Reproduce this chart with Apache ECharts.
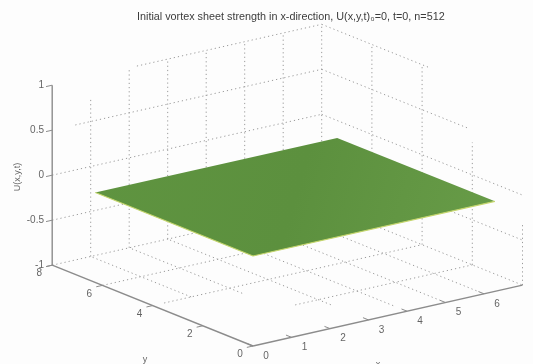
<!DOCTYPE html>
<html><head><meta charset="utf-8">
<style>html,body{margin:0;padding:0;background:#fdfdfd;overflow:hidden}#c{width:533px;height:364px;filter:blur(.45px)}</style>
<script src="https://cdn.jsdelivr.net/npm/echarts@6/dist/echarts.min.js"></script></head>
<body><div id="c"></div>
<script>
// axis ticks
const xTicks = [0,1,2,3,4,5,6];
const yTicks = [0,2,4,6,8];
const zTicks = [-1,-0.5,0,0.5,1];
const zTickLabels = ['-1','-0.5','0','0.5','1'];
// box limits
const xMax = 7, yMax = 8;
// surface: U(x,y,0)=0 over [0,2π]²
const surfaceX = [0, 6.283, 6.283, 0];
const surfaceY = [0, 0, 6.283, 6.283];
const surfaceU = [0, 0, 0, 0];
// visible stretches of the scanned dotted grid: [fixed value, from, to]
const backXVerticals = [[1,-1,0.75],[2,-1,1],[3,-1,1],[4,-1,1],[5,-1,1],[6,-1,1],[7,-1,1]];
const backZLines = [[-1,0,7],[-0.5,0,7],[0,0,7],[0.5,0.6,7],[1,2.2,7]];
const sideYVerticals = [[6,-1,1],[4,-1,1],[2,-1,0.36],[0,-1,-0.3]];
const sideZLines = [[1,8,3.7],[0.5,8,2.2],[0,8,0],[-0.5,8,0],[-1,8,0]];
const floorXLines = [[1,4,8],[2,3.5,8],[3,1.5,8],[4,0.55,8],[5,0.2,8],[6,0.3,8]];
const floorYLines = [[2,2.4,7],[4,0.3,7],[6,0,7]];

// oblique view of the 3-D box, mapped to the 2-D hidden axes
const view = {ox:253, oy:346, xdx:38.5, xdy:-8.7, ydx:-25.1, ydy:-10.1, zdy:-90};
const P = (x,y,z)=>[view.ox+view.xdx*x+view.ydx*y, view.oy+view.xdy*x+view.ydy*y+view.zdy*(z+1)];

const series = [];
const seg = (pts,color,width,type,z)=>series.push({type:'line',data:pts,showSymbol:false,silent:true,z:z,
  animation:false,lineStyle:{color:color,width:width,type:type,opacity:1}});
const dot = [1.2,3];
const grid = '#9a9a9a';
backXVerticals.forEach(([x,a,b])=>seg([P(x,yMax,a),P(x,yMax,b)],grid,1,dot,1));
backZLines.forEach(([z,a,b])=>seg([P(a,yMax,z),P(b,yMax,z)],grid,1,dot,1));
sideYVerticals.forEach(([y,a,b])=>seg([P(xMax,y,a),P(xMax,y,b)],grid,1,dot,1));
sideZLines.forEach(([z,a,b])=>seg([P(xMax,a,z),P(xMax,b,z)],grid,1,dot,1));
floorXLines.forEach(([x,a,b])=>seg([P(x,a,-1),P(x,b,-1)],grid,1,dot,1));
floorYLines.forEach(([y,a,b])=>seg([P(a,y,-1),P(b,y,-1)],grid,1,dot,1));

// surface
const corners = surfaceX.map((x,i)=>P(x,surfaceY[i],surfaceU[i]));
series.push({type:'custom',z:3,silent:true,animation:false,clip:false,
  data:[corners.flat()],
  renderItem(p,api){
    const pts=[0,1,2,3].map(i=>api.coord([api.value(2*i),api.value(2*i+1)]));
    return {type:'polygon',shape:{points:pts},style:{
      fill:new echarts.graphic.LinearGradient(0,0,1,1,[{offset:0,color:'#5f9440'},{offset:.5,color:'#5c903e'},{offset:1,color:'#689c48'}])}};
  }});
seg([corners[3],corners[0],corners[1]],'#c4d56c',1.2,'solid',4);

// box axes
const ax='#8c8c8c';
seg([P(0,yMax,-1),P(0,yMax,1)],ax,1.4,'solid',5);
seg([P(0,yMax,-1),P(0,0,-1)],ax,1.4,'solid',5);
seg([P(0,0,-1),P(xMax,0,-1)],ax,1.4,'solid',5);
zTicks.forEach(z=>seg([P(0,yMax,z),P(-0.16,yMax,z)],ax,1,'solid',5));
yTicks.forEach(y=>seg([P(0,y,-1),P(-0.16,y,-1)],ax,1,'solid',5));
xTicks.forEach(x=>seg([P(x,0,-1),P(x,0.22,-1)],ax,1,'solid',5));

// labels
const label=(pos,text,align,extra)=>({value:pos,label:Object.assign({show:true,formatter:text,position:'inside',align:align||'center',verticalAlign:'middle',
  fontFamily:'Liberation Sans',fontSize:10,color:'#3c3c3c'},extra||{})});
const labels=[];
xTicks.forEach(x=>{const q=P(x,0,-1);labels.push(label([q[0]+13,q[1]+10],String(x)));});
yTicks.forEach(y=>{const q=P(0,y,-1);labels.push(label([q[0]-13,q[1]+8.5],String(y)));});
zTicks.forEach((z,i)=>{const q=P(0,yMax,z);labels.push(label([44,q[1]],zTickLabels[i],'right'));});
labels.push(label([18,177],'U(x,y,t)','center',{rotate:90,fontSize:9}));
labels.push(label([145,360],'y','center',{fontSize:9}));
labels.push(label([378,365],'x','center',{fontSize:9}));
series.push({type:'scatter',symbolSize:1,itemStyle:{color:'rgba(0,0,0,0)'},silent:true,z:6,animation:false,clip:false,data:labels});

const chart=echarts.init(document.getElementById('c'),null,{renderer:'canvas'});
chart.setOption({
  backgroundColor:'#fdfdfd',animation:false,
  title:{text:'Initial vortex sheet strength in x-direction, U(x,y,t)₀=0, t=0, n=512',left:132,top:7,
    textStyle:{fontFamily:'Liberation Sans',fontSize:10.8,fontWeight:'normal',color:'#3c3c3c'}},
  tooltip:{show:false},legend:{show:false},
  grid:{left:0,right:0,top:0,bottom:0},
  xAxis:{type:'value',min:0,max:533,show:false},
  yAxis:{type:'value',min:0,max:364,inverse:true,show:false},
  series:series
});
</script></body></html>
